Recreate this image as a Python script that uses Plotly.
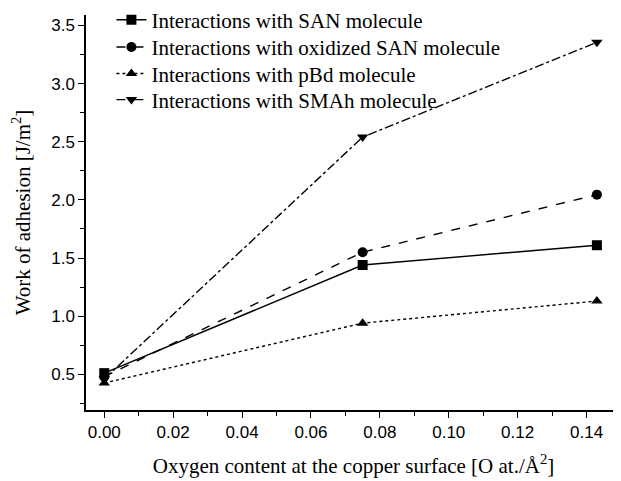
import plotly.graph_objects as go

oxygen = [0.0, 0.075, 0.143]
san = [0.51, 1.44, 1.61]
ox_san = [0.48, 1.55, 2.045]
pbd = [0.425, 0.94, 1.13]
smah = [0.46, 2.54, 3.355]

names = [
    "Interactions with SAN molecule",
    "Interactions with oxidized SAN molecule",
    "Interactions with pBd molecule",
    "Interactions with SMAh molecule",
]
series = [san, ox_san, pbd, smah]
dashes = ["solid", "dash", "dot", "dashdot"]
symbols = ["square", "circle", "triangle-up", "triangle-down"]
legend_ids = ["legend", "legend2", "legend3", "legend4"]
legend_y = [0.987, 0.918, 0.851, 0.785]

fig = go.Figure()
for nm, ys, d, s, lg in zip(names, series, dashes, symbols, legend_ids):
    fig.add_trace(go.Scatter(
        x=oxygen, y=ys, name=nm, mode="lines+markers", legend=lg,
        line=dict(color="black", width=1.4, dash=d),
        marker=dict(symbol=s, size=10, color="black"),
    ))

axis_common = dict(
    showline=True, linecolor="black", linewidth=1.5, mirror=False,
    ticks="outside", ticklen=6, tickwidth=1.3, tickcolor="black",
    showgrid=False, zeroline=False, automargin=False,
    tickfont=dict(family="Liberation Sans, Arial", size=17, color="black"),
)

serif = "Liberation Serif, Times New Roman"

legends = {}
for lg, ly in zip(legend_ids, legend_y):
    legends[lg] = dict(
        x=0.0475, y=ly, xanchor="left", yanchor="middle",
        bgcolor="rgba(0,0,0,0)", borderwidth=0,
        font=dict(family=serif, size=21, color="black"),
        itemwidth=30,
    )

fig.update_layout(
    width=613, height=473,
    margin=dict(l=78, r=0, t=7, b=71, autoexpand=False),
    paper_bgcolor="white", plot_bgcolor="white",
    showlegend=True,
    xaxis=dict(
        range=[-0.0053, 0.15], tickmode="array",
        tickvals=[0.0, 0.02, 0.04, 0.06, 0.08, 0.10, 0.12, 0.14],
        ticktext=["0.00", "0.02", "0.04", "0.06", "0.08", "0.10", "0.12", "0.14"],
        minor=dict(tickvals=[0.01, 0.03, 0.05, 0.07, 0.09, 0.11, 0.13], ticks="outside",
                   ticklen=4, tickwidth=1.3, tickcolor="black"),
        title=dict(text="Oxygen content at the copper surface [O at./Å<sup>2</sup>]",
                   font=dict(family=serif, size=21, color="black"),
                   standoff=17),
        **axis_common,
    ),
    yaxis=dict(
        range=[0.193, 3.59], tickmode="array",
        tickvals=[0.5, 1.0, 1.5, 2.0, 2.5, 3.0, 3.5],
        ticktext=["0.5", "1.0", "1.5", "2.0", "2.5", "3.0", "3.5"],
        minor=dict(tickvals=[0.25, 0.75, 1.25, 1.75, 2.25, 2.75, 3.25], ticks="outside",
                   ticklen=4, tickwidth=1.3, tickcolor="black"),
        title=dict(text="Work of adhesion [J/m<sup>2</sup>]",
                   font=dict(family=serif, size=21, color="black"),
                   standoff=20),
        **axis_common,
    ),
    **legends,
)

fig.write_html("out.html")
